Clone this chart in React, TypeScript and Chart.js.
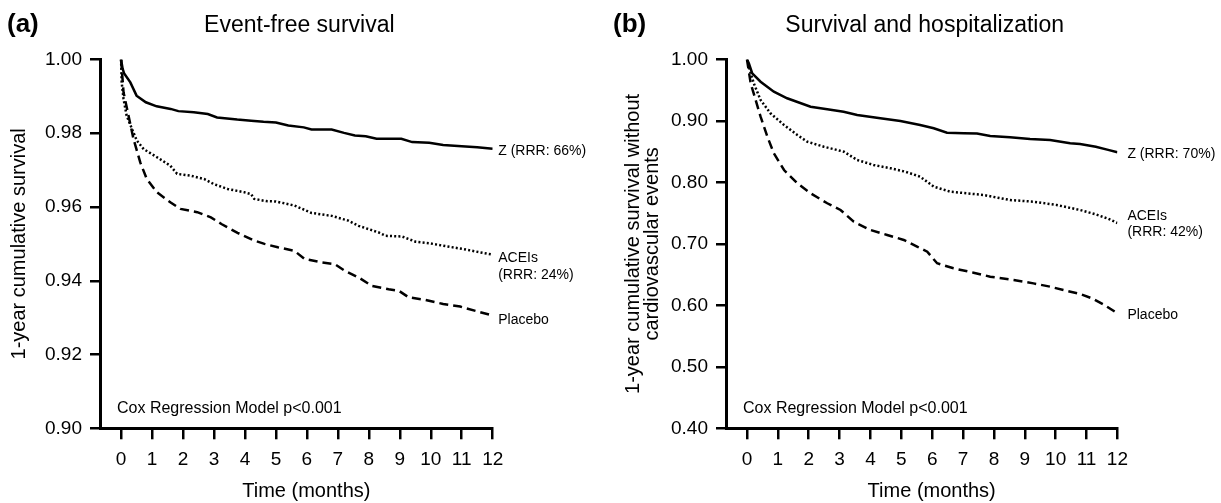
import React, { useEffect, useRef } from 'react';
import { Chart, registerables } from 'chart.js';

Chart.register(...registerables);

const FONT = '"Liberation Sans", Arial, Helvetica, sans-serif';

// ---------- shared ticks ----------
const monthTicks = [0, 1, 2, 3, 4, 5, 6, 7, 8, 9, 10, 11, 12];
const eventFreeTicks = [0.9, 0.92, 0.94, 0.96, 0.98, 1.0];
const hospTicks = [0.4, 0.5, 0.6, 0.7, 0.8, 0.9, 1.0];

// ---------- panel (a): event-free survival ----------
const aZMonths = [0, 0.05, 0.1, 0.3, 0.5, 0.8, 1.15, 1.6, 1.85, 2.35, 2.8, 3.1, 3.75, 4.2, 4.6, 5.0, 5.4, 5.9, 6.15, 6.8, 7.2, 7.55, 7.9, 8.25, 9.05, 9.4, 9.95, 10.4, 11.0, 11.5, 12];
const aZValues = [1.0, 0.9975, 0.9962, 0.9938, 0.9902, 0.9884, 0.9873, 0.9866, 0.986, 0.9857, 0.9852, 0.9843, 0.9837, 0.9834, 0.9831, 0.9829, 0.9821, 0.9816, 0.981, 0.981, 0.9801, 0.9794, 0.9792, 0.9785, 0.9785, 0.9776, 0.9774, 0.9768, 0.9765, 0.9762, 0.9758];

const aAceiMonths = [0, 0.02, 0.08, 0.18, 0.35, 0.51, 0.73, 1.16, 1.59, 1.81, 2.25, 2.68, 3.0, 3.44, 3.98, 4.2, 4.3, 4.68, 5.0, 5.6, 6.15, 6.8, 7.34, 7.67, 8.32, 8.54, 9.07, 9.51, 9.94, 10.4, 11.05, 11.6, 12];
const aAceiValues = [1.0, 0.9938, 0.9893, 0.9848, 0.9812, 0.978, 0.9757, 0.9735, 0.9712, 0.969, 0.9685, 0.9676, 0.9662, 0.9649, 0.964, 0.9635, 0.9622, 0.9616, 0.9615, 0.9604, 0.9584, 0.9576, 0.9563, 0.9549, 0.9531, 0.9522, 0.952, 0.9506, 0.9502, 0.9495, 0.9486, 0.9477, 0.9471];

const aPlaceboMonths = [0, 0.08, 0.24, 0.4, 0.62, 0.83, 1.16, 1.59, 1.92, 2.46, 2.9, 3.24, 3.76, 4.3, 4.63, 5.06, 5.6, 5.93, 6.47, 6.9, 7.23, 7.67, 8.1, 8.64, 8.97, 9.29, 9.83, 10.4, 10.95, 11.5, 12];
const aPlaceboValues = [1.0, 0.9911, 0.9848, 0.9785, 0.9721, 0.9676, 0.964, 0.9613, 0.9595, 0.9586, 0.9572, 0.9554, 0.953, 0.9509, 0.95, 0.9491, 0.9481, 0.9459, 0.945, 0.9445, 0.9427, 0.9409, 0.9386, 0.9377, 0.9373, 0.9355, 0.9348, 0.9337, 0.933, 0.9317, 0.9306];

// ---------- panel (b): survival and hospitalization ----------
const bZMonths = [0, 0.06, 0.17, 0.44, 0.87, 1.3, 2.06, 2.6, 3.13, 3.57, 4.32, 4.97, 5.61, 6.05, 6.48, 7.02, 7.45, 7.88, 8.52, 9.17, 9.82, 10.47, 10.79, 11.3, 11.7, 12];
const bZValues = [1.0, 0.9938, 0.9775, 0.9639, 0.9476, 0.9369, 0.9232, 0.919, 0.9151, 0.9097, 0.9043, 0.9, 0.8934, 0.8881, 0.8809, 0.8799, 0.8795, 0.8756, 0.8734, 0.8707, 0.869, 0.8637, 0.8625, 0.858, 0.853, 0.849];

const bAceiMonths = [0, 0.12, 0.22, 0.44, 0.76, 1.2, 1.63, 1.95, 2.49, 3.14, 3.57, 4.1, 4.65, 5.13, 5.61, 6.05, 6.59, 7.66, 8.52, 9.28, 10.03, 10.79, 11.3, 11.7, 12];
const bAceiValues = [1.0, 0.9775, 0.9613, 0.9341, 0.9125, 0.8934, 0.8772, 0.8663, 0.8581, 0.85, 0.8365, 0.8284, 0.823, 0.8175, 0.8093, 0.7931, 0.7849, 0.7796, 0.7714, 0.7687, 0.7633, 0.7552, 0.748, 0.741, 0.734];

const bPlaceboMonths = [0, 0.12, 0.28, 0.44, 0.66, 0.87, 1.2, 1.63, 2.06, 2.6, 3.03, 3.46, 4.0, 4.54, 5.08, 5.51, 5.84, 6.16, 6.69, 7.34, 7.88, 8.64, 9.28, 9.82, 10.25, 10.79, 11.2, 11.6, 12];
const bPlaceboValues = [1.0, 0.9613, 0.9341, 0.907, 0.8744, 0.8474, 0.8202, 0.7986, 0.7823, 0.7661, 0.7552, 0.7361, 0.7226, 0.7145, 0.7064, 0.6955, 0.6873, 0.6685, 0.6603, 0.6532, 0.6467, 0.6413, 0.6358, 0.6304, 0.625, 0.6185, 0.611, 0.6, 0.587];

// ---------- texts ----------
const coxText = 'Cox Regression Model p<0.001';
const xTitle = 'Time (months)';
const aLabels = [['Z (RRR: 66%)'], ['ACEIs', '(RRR: 24%)'], ['Placebo']];
const bLabels = [['Z (RRR: 70%)'], ['ACEIs', '(RRR: 42%)'], ['Placebo']];

type Series = { months: number[]; values: number[]; dash: number[]; lines: string[]; dy: number[] };
type Panel = {
  letter: string;
  title: string;
  yTitle: string | string[];
  yTitleLineHeight: string;
  yTitlePad: number;
  yMin: number;
  yMax: number;
  yTicks: number[];
  yScaleWidth: number;
  padRight: number;
  labelDx: number;
  letterX: number;
  series: Series[];
};

const SOLID: number[] = [];
const DOTTED = [2, 2.2];
const DASHED = [9, 5];

const panelA: Panel = {
  letter: '(a)',
  title: 'Event-free survival',
  yTitle: '1-year cumulative survival',
  yTitleLineHeight: '24px',
  yTitlePad: 7,
  yMin: 0.9,
  yMax: 1.0,
  yTicks: eventFreeTicks,
  yScaleWidth: 100,
  padRight: 117.3,
  labelDx: 5.5,
  letterX: 7,
  series: [
    { months: aZMonths, values: aZValues, dash: SOLID, lines: aLabels[0], dy: [2] },
    { months: aAceiMonths, values: aAceiValues, dash: DOTTED, lines: aLabels[1], dy: [4, 21] },
    { months: aPlaceboMonths, values: aPlaceboValues, dash: DASHED, lines: aLabels[2], dy: [5] },
  ],
};

const panelB: Panel = {
  letter: '(b)',
  title: 'Survival and hospitalization',
  yTitle: ['1-year cumulative survival without', 'cardiovascular events'],
  yTitleLineHeight: '19px',
  yTitlePad: 13.5,
  yMin: 0.4,
  yMax: 1.0,
  yTicks: hospTicks,
  yScaleWidth: 116,
  padRight: 103.6,
  labelDx: 10,
  letterX: 3,
  series: [
    { months: bZMonths, values: bZValues, dash: SOLID, lines: bLabels[0], dy: [2] },
    { months: bAceiMonths, values: bAceiValues, dash: DOTTED, lines: bLabels[1], dy: [-6.5, 9.5] },
    { months: bPlaceboMonths, values: bPlaceboValues, dash: DASHED, lines: bLabels[2], dy: [2] },
  ],
};

function makeChart(canvas: HTMLCanvasElement, p: Panel) {
  const textPlugin = {
    id: 'panelText',
    afterDraw(chart: any) {
      const { ctx, chartArea } = chart;
      const yScale = chart.scales.y;
      const cx = (chartArea.left + chartArea.right) / 2;
      ctx.save();
      ctx.fillStyle = '#000';
      ctx.textBaseline = 'alphabetic';
      ctx.textAlign = 'left';
      ctx.font = `bold 26px ${FONT}`;
      ctx.fillText(p.letter, p.letterX, 31.5);
      ctx.textAlign = 'center';
      ctx.font = `23px ${FONT}`;
      ctx.fillText(p.title, cx + 3, 31.5);
      ctx.textBaseline = 'middle';
      ctx.font = `20px ${FONT}`;
      ctx.fillText(xTitle, cx + 10, 491);
      ctx.textAlign = 'left';
      ctx.textBaseline = 'alphabetic';
      ctx.font = `16px ${FONT}`;
      ctx.fillText(coxText, chartArea.left + 17, chartArea.bottom - 15);
      ctx.font = `14px ${FONT}`;
      ctx.textBaseline = 'middle';
      p.series.forEach((s) => {
        const py = yScale.getPixelForValue(s.values[s.values.length - 1]);
        s.lines.forEach((line, i) => {
          ctx.fillText(line, chartArea.right + p.labelDx, py + s.dy[i]);
        });
      });
      ctx.restore();
    },
  };

  return new Chart(canvas, {
    type: 'line',
    data: {
      datasets: p.series.map((s) => ({
        data: s.months.map((m, i) => ({ x: m, y: s.values[i] })),
        borderColor: '#000',
        backgroundColor: '#000',
        borderWidth: 2.5,
        borderDash: s.dash,
        borderCapStyle: 'butt',
        pointRadius: 0,
        tension: 0,
        fill: false,
      })),
    },
    options: {
      animation: false,
      responsive: false,
      events: [],
      layout: { padding: { left: 0, top: 59.5, right: p.padRight, bottom: 0 } },
      plugins: { legend: { display: false }, tooltip: { enabled: false }, title: { display: false } },
      scales: {
        x: {
          type: 'linear',
          min: -0.68,
          max: 12,
          afterBuildTicks: (scale: any) => {
            scale.ticks = monthTicks.map((v) => ({ value: v }));
          },
          afterFit: (scale: any) => {
            scale.height = 74.7;
          },
          border: { display: true, color: '#000', width: 3 },
          grid: {
            drawOnChartArea: false,
            drawTicks: true,
            tickLength: 11,
            tickWidth: 2.5,
            tickColor: '#000',
            color: '#000',
            lineWidth: 2.5,
          },
          ticks: {
            autoSkip: false,
            maxRotation: 0,
            padding: 9,
            color: '#000',
            font: { family: FONT, size: 19 },
            callback: (v: any) => String(v),
          },
          title: { display: false },
        },
        y: {
          type: 'linear',
          min: p.yMin,
          max: p.yMax,
          afterBuildTicks: (scale: any) => {
            scale.ticks = p.yTicks.map((v) => ({ value: v }));
          },
          afterFit: (scale: any) => {
            scale.width = p.yScaleWidth;
          },
          border: { display: true, color: '#000', width: 3 },
          grid: {
            drawOnChartArea: false,
            drawTicks: true,
            tickLength: 10,
            tickWidth: 2.5,
            tickColor: '#000',
            color: '#000',
            lineWidth: 2.5,
          },
          ticks: {
            autoSkip: false,
            padding: 8,
            color: '#000',
            font: { family: FONT, size: 19 },
            callback: (v: any) => Number(v).toFixed(2),
          },
          title: {
            display: true,
            text: p.yTitle,
            color: '#000',
            font: { family: FONT, size: 20, lineHeight: p.yTitleLineHeight },
            padding: { top: p.yTitlePad, bottom: 0 },
          },
        },
      },
    } as any,
    plugins: [textPlugin],
  } as any);
}

function PanelCanvas({ panel, left, width }: { panel: Panel; left: number; width: number }) {
  const ref = useRef<HTMLCanvasElement | null>(null);
  useEffect(() => {
    if (!ref.current) return;
    const chart = makeChart(ref.current, panel);
    return () => chart.destroy();
  }, [panel]);
  return (
    <canvas
      ref={ref}
      width={width}
      height={503}
      style={{ position: 'absolute', left, top: 0, width, height: 503 }}
    />
  );
}

export default function App() {
  return (
    <div
      style={{
        position: 'absolute',
        left: 0,
        top: 0,
        width: 1221,
        height: 503,
        background: '#fff',
        overflow: 'hidden',
      }}
    >
      <PanelCanvas panel={panelA} left={0} width={610} />
      <PanelCanvas panel={panelB} left={610} width={611} />
    </div>
  );
}
